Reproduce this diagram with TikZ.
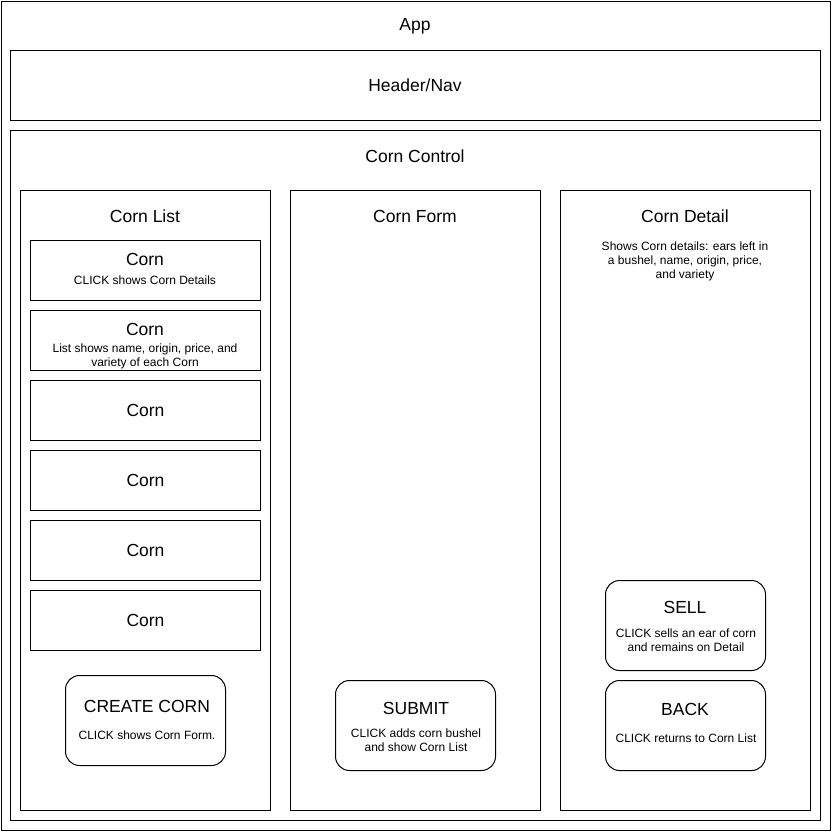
\documentclass[tikz,border=0pt]{standalone}
\usepackage{fontspec}
\setmainfont{Liberation Sans}
\usetikzlibrary{positioning}

\begin{document}
\begin{tikzpicture}[x=1pt,y=-1pt,
	box/.style={draw=black,line width=1pt,anchor=north west,inner sep=0pt},
	btn/.style={box,rounded corners=14pt,minimum width=160,minimum height=90},
	big/.style={font=\fontsize{17.5}{21}\selectfont},
	small/.style={font=\fontsize{12}{14}\selectfont,align=center}]

	\useasboundingbox (0,0) rectangle (832,832);

	\node[box,minimum width=829,minimum height=829] (app)     at (1,1)    {};
	\node[box,minimum width=810,minimum height=70]  (header)  at (10,50)  {};
	\node[box,minimum width=810,minimum height=690] (control) at (10,130) {};
	\node[box,minimum width=250,minimum height=620] (list)    at (20,190) {};
	\node[box,minimum width=250,minimum height=620] (form)    at (290,190) {};
	\node[box,minimum width=250,minimum height=620] (detail)  at (560,190) {};

	\node[big] (apptitle)     at (415,26)  {App};
	\node[big] (headertitle)  at (415,85)  {Header/Nav};
	\node[big] (controltitle) at (415,156) {Corn Control};
	\node[big] (listtitle)    at (145,216) {Corn List};
	\node[big] (formtitle)    at (415,216) {Corn Form};
	\node[big] (detailtitle)  at (685,216) {Corn Detail};
	\node[small] (detailtext) at (685,261) {Shows Corn details: ears left in\\a bushel, name, origin, price,\\and variety};

	% list items
	\node[box,minimum width=230,minimum height=60] (corn1) at (30,240) {};
	\node[box,minimum width=230,minimum height=60] (corn2) at (30,310) {};
	\foreach \i in {3,...,6}
		\node[box,big,minimum width=230,minimum height=60] (corn\i) at (30,240+70*\i-70) {Corn};

	\node[big]   (corn1title) at (145,259) {Corn};
	\node[small] (corn1text)  at (145,280) {CLICK shows Corn Details};
	\node[big]   (corn2title) at (145,329) {Corn};
	\node[small] (corn2text)  at (145,356) {List shows name, origin, price, and\\variety of each Corn};

	% buttons
	\node[btn] (create) at (65,675)  {};
	\node[btn] (submit) at (335,680) {};
	\node[btn] (sell)   at (605,580) {};
	\node[btn] (back)   at (605,680) {};

	\node[big]   (createtitle) at (147,706) {CREATE CORN};
	\node[small] (createtext)  at (147,735) {CLICK shows Corn Form.};
	\node[big]   (submittitle) at (416,708) {SUBMIT};
	\node[small] (submittext)  at (416,740) {CLICK adds corn bushel\\and show Corn List};
	\node[big]   (selltitle)   at (685,607) {SELL};
	\node[small] (selltext)    at (686,640) {CLICK sells an ear of corn\\and remains on Detail};
	\node[big]   (backtitle)   at (685,709) {BACK};
	\node[small] (backtext)    at (686,738) {CLICK returns to Corn List};

\end{tikzpicture}
\end{document}
